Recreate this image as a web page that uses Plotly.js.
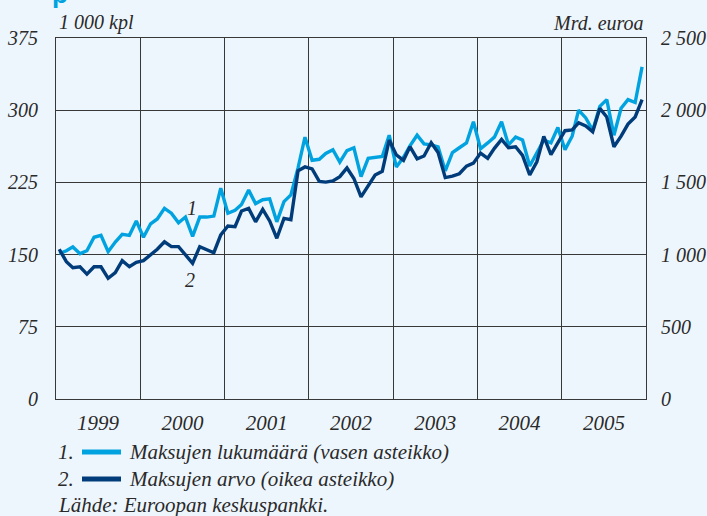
<!DOCTYPE html>
<html><head><meta charset="utf-8">
<script src="https://cdn.plot.ly/plotly-3.0.1.min.js"></script>
<style>html,body{margin:0;padding:0;background:#EEF6FD;}</style>
</head><body>
<div id="chart" style="width:707px;height:516px"></div>
<script>
const years = ['1999','2000','2001','2002','2003','2004','2005'];
// Maksujen lukumäärä, 1 000 kpl (left axis), monthly
const countValues = [
 151,154,158,151,154,168,170,153,163,171,170,185,
 168,182,187,198,193,183,189,169,189,189,190,219,
 193,196,202,217,203,207,208,184,205,212,240,272,
 248,249,255,259,246,258,261,231,250,251,252,274,
 241,251,263,274,265,264,262,237,256,261,266,288,
 260,266,272,288,264,272,269,242,256,269,266,282,
 259,273,300,292,279,304,311,274,302,311,308,345
];
// Maksujen arvo, Mrd. euroa (right axis), monthly
const valueValues = [
 1037,951,909,916,865,916,916,836,875,958,916,947,
 958,997,1037,1089,1055,1055,997,940,1055,1032,1013,1136,
 1198,1193,1302,1320,1227,1313,1233,1113,1251,1242,1580,1607,
 1593,1507,1502,1510,1540,1600,1527,1400,1480,1551,1577,1793,
 1690,1653,1747,1663,1683,1775,1707,1533,1543,1560,1613,1633,
 1703,1667,1736,1798,1740,1747,1687,1551,1643,1818,1693,1771,
 1858,1863,1913,1891,1851,2013,1953,1747,1820,1904,1953,2073
];
const leftTicks = [0,75,150,225,300,375];
const rightTicks = [0,500,1000,1500,2000,2500];
const rightTickText = ['0','500','1 000','1 500','2 000','2 500'];
const seriesNames = ['Maksujen lukumäärä (vasen asteikko)','Maksujen arvo (oikea asteikko)'];
const source = 'Lähde: Euroopan keskuspankki.';

const months = [];
years.forEach(y => { for (let m = 1; m <= 12; m++) months.push(y + '-' + String(m).padStart(2,'0') + '-15'); });

const LIGHT = '#00A3E0', DARK = '#003C7A', INK = '#2a2a2a', GRID = '#383838';
const L = 56, R = 646, T = 38, B = 399, W = 707, H = 516;
const px = x => (x - L) / (R - L);
const py = y => (B - y) / (B - T);
const f = (size, color) => ({family:'Liberation Serif, serif', size:size, style:'italic', color:color||INK});

const traces = [
 {x: months, y: countValues, type:'scatter', mode:'lines', yaxis:'y', line:{color:LIGHT, width:3.4}, hoverinfo:'skip'},
 {x: months, y: valueValues, type:'scatter', mode:'lines', yaxis:'y2', line:{color:DARK, width:3.4}, hoverinfo:'skip'}
];

const ann = (x, y, text, size, xanchor, color) => ({xref:'paper', yref:'paper', x:px(x), y:py(y), text:text, showarrow:false, xanchor:xanchor||'left', yanchor:'middle', font:f(size, color)});

const layout = {
 width: W, height: H,
 paper_bgcolor:'#EEF6FD', plot_bgcolor:'#EEF6FD',
 margin:{l:L, r:W-R, t:T, b:H-B},
 showlegend:false,
 xaxis:{type:'date', range:['1999-01-01','2006-01-01'], tick0:'1999-01-01', dtick:'M12',
   ticklabelmode:'period', tickformat:'%Y', showgrid:true, gridcolor:GRID, gridwidth:1,
   showline:true, linecolor:GRID, linewidth:1, mirror:true, ticks:'', tickfont:f(21), ticklabelstandoff:5, fixedrange:true},
 yaxis:{range:[0,375], tickvals:leftTicks, showgrid:true, gridcolor:GRID, gridwidth:1, zeroline:false,
   showline:true, linecolor:GRID, ticks:'', tickfont:f(20), ticklabelstandoff:13},
 yaxis2:{range:[0,2500], overlaying:'y', side:'right', tickvals:rightTicks, ticktext:rightTickText,
   showgrid:false, zeroline:false, showline:true, linecolor:GRID, ticks:'', tickfont:f(20), ticklabelstandoff:10},
 shapes:[
  {type:'line', xref:'paper', yref:'paper', x0:px(82), x1:px(121), y0:py(452), y1:py(452), line:{color:LIGHT, width:5}},
  {type:'line', xref:'paper', yref:'paper', x0:px(82), x1:px(121), y0:py(479), y1:py(479), line:{color:DARK, width:5}}
 ],
 annotations:[
  ann(57, 23, '1 000 kpl', 20, 'left'),
  ann(646, 23, 'Mrd. euroa', 20, 'right'),
  ann(192, 208, '1', 20, 'center'),
  ann(190, 280, '2', 20, 'center'),
  ann(56, 452, '1.', 21, 'left'),
  ann(56, 479, '2.', 21, 'left'),
  ann(127, 452, seriesNames[0], 21, 'left'),
  ann(127, 479, seriesNames[1], 21, 'left'),
  ann(56, 505, source, 21, 'left'),
  {xref:'paper', yref:'paper', x:px(50), y:py(-6), text:'p', showarrow:false, xanchor:'left', yanchor:'middle',
   font:{family:'Liberation Sans, sans-serif', size:26, weight:'bold', color:LIGHT}}
 ]
};
Plotly.newPlot('chart', traces, layout, {displayModeBar:false, staticPlot:true});
</script>
</body></html>
